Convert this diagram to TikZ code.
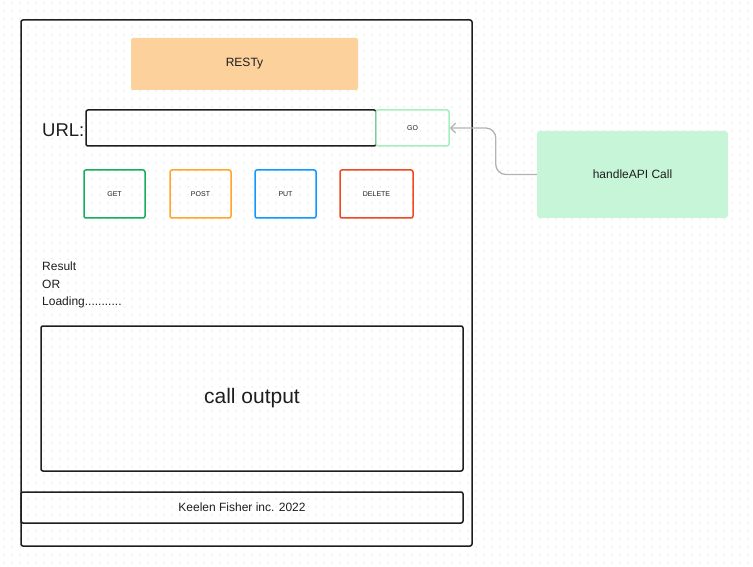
\documentclass[tikz,border=0pt]{standalone}
\usepackage{fontspec}
\setmainfont{Liberation Sans}
\usetikzlibrary{arrows.meta}
\definecolor{restyfill}{HTML}{FCD19C}
\definecolor{gofill}{HTML}{C6F5D7}
\definecolor{gostroke}{HTML}{A6EEC0}
\definecolor{getcol}{HTML}{14AE5C}
\definecolor{postcol}{HTML}{FFA629}
\definecolor{putcol}{HTML}{0D99FF}
\definecolor{delcol}{HTML}{F24822}
\definecolor{inkcol}{HTML}{1E1E1E}
\definecolor{dotcol}{HTML}{EEEEEE}
\definecolor{wirecol}{HTML}{B3B3B3}
\tikzset{
    panel/.style={draw=inkcol, line width=1.5pt, rounded corners=2pt, inner sep=0pt},
    verb/.style={draw=#1, line width=1.5pt, rounded corners=2pt, inner sep=0pt,
        minimum height=48pt, font=\fontsize{7}{8}\selectfont, text=inkcol},
    label/.style={anchor=west, inner sep=0pt, text=inkcol, font=\fontsize{12}{14}\selectfont}
}
\begin{document}
\begin{tikzpicture}[x=1pt,y=-1pt]
    \useasboundingbox (0,0) rectangle (753,567);
    % dotted canvas
    \fill[dotcol] \foreach \i in {0,...,93}{\foreach \j in {0,...,70}{(3.3+8*\i,2+8*\j) rectangle ++(1.6,1.6)}};
    % outer frame
    \draw[inkcol, line width=1.5pt, rounded corners=2pt] (21,20) rectangle (472,546);
    \node[fill=restyfill, rounded corners=2pt, minimum width=227pt, minimum height=52pt, inner sep=0pt,
        text=inkcol, font=\fontsize{12}{14}\selectfont] (resty) at (244.5,64) {RESTy};
    \node[anchor=east, inner sep=0pt, text=inkcol, font=\fontsize{18.5}{22}\selectfont] (url) at (84.5,130.5) {URL:};
    \node[panel, minimum width=290pt, minimum height=36pt] (input) at (231,128) {};
    \node[draw=gostroke, line width=1.5pt, rounded corners=2pt, inner sep=0pt, minimum width=73pt,
        minimum height=36pt, font=\fontsize{7}{8}\selectfont, text=inkcol] (go) at (412.5,128) {GO};
    \node[verb=getcol, minimum width=61pt] (get) at (114.5,194) {GET};
    \node[verb=postcol, minimum width=61pt] (post) at (200.5,194) {POST};
    \node[verb=putcol, minimum width=61pt] (put) at (285.5,194) {PUT};
    \node[verb=delcol, minimum width=73pt] (delete) at (376.5,194) {DELETE};
    \node[label] (result) at (42,266.5) {Result};
    \node[label] (or) at (42,284.5) {OR};
    \node[label] (loading) at (42,302.5) {Loading...........};
    \node[panel, minimum width=422pt, minimum height=145pt, font=\fontsize{21}{24}\selectfont,
        text=inkcol] (output) at (252,398.5) {call output};
    \node[panel, minimum width=442pt, minimum height=31pt, font=\fontsize{12}{14}\selectfont,
        text=inkcol] (footer) at (242,507.5) {Keelen Fisher inc. 2022};
    \node[fill=gofill, rounded corners=3pt, minimum width=191pt, minimum height=87pt, inner sep=0pt,
        text=inkcol, font=\fontsize{12}{14}\selectfont] (handle) at (632.5,174.5) {handleAPI Call};
    \draw[wirecol, line width=1.3pt, rounded corners=10pt, -{Straight Barb[length=5pt,width=10pt]}]
        (handle.west) -- ++(-41,0) |- (go.east);
\end{tikzpicture}
\end{document}
